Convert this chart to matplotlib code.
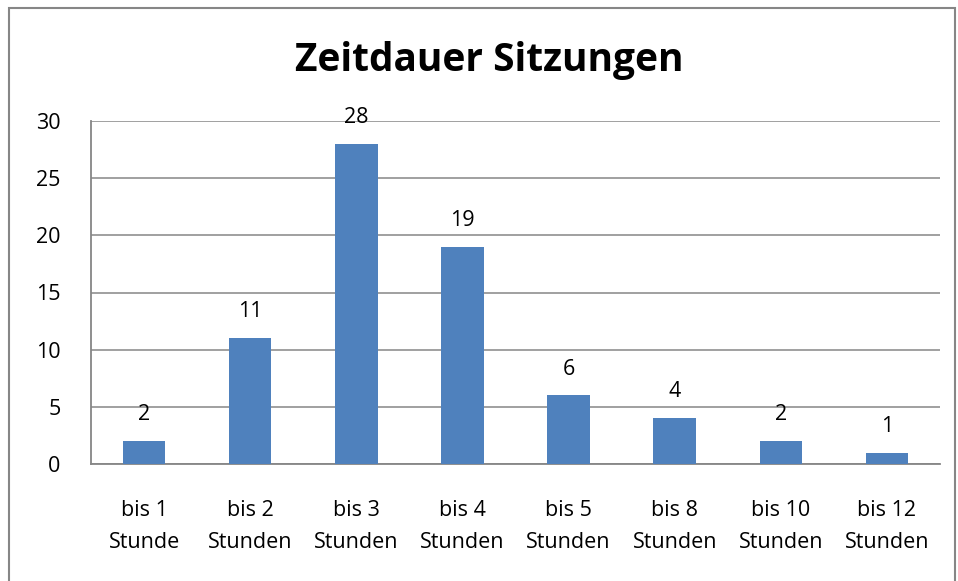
import numpy as np
import matplotlib.pyplot as plt
from matplotlib.patches import Rectangle

# Zeitdauer der Sitzungen
categories = ['bis 1\nStunde', 'bis 2\nStunden', 'bis 3\nStunden', 'bis 4\nStunden',
              'bis 5\nStunden', 'bis 8\nStunden', 'bis 10\nStunden', 'bis 12\nStunden']
counts = [2, 11, 28, 19, 6, 4, 2, 1]
yticks = [0, 5, 10, 15, 20, 25, 30]

plt.rcParams['font.family'] = ['Open Sans', 'DejaVu Sans']

fig = plt.figure(figsize=(9.58, 5.81), dpi=100)
ax = fig.add_axes([91 / 958, 1 - 464 / 581, 849 / 958, 343 / 581])

x = np.arange(len(categories))
ax.bar(x, counts, width=0.4, color='#4F81BD', zorder=3)

ax.set_xlim(-0.5, len(categories) - 0.5)
ax.set_ylim(0, 30)
ax.set_yticks(yticks)
ax.set_xticks(x)
ax.set_xticklabels(categories, fontsize=15.5, linespacing=1.65)
ax.tick_params(axis='both', length=0, labelsize=15.5, colors='black')
ax.tick_params(axis='y', pad=22)
ax.tick_params(axis='x', pad=26)
ax.yaxis.grid(True, color='#868686', linewidth=1.1, zorder=0)

for s in ['top', 'right']:
    ax.spines[s].set_visible(False)
for s in ['left', 'bottom']:
    ax.spines[s].set_color('#868686')
    ax.spines[s].set_linewidth(1.3)

for xi, v in zip(x, counts):
    ax.annotate(str(v), (xi, v), xytext=(0, 19), textcoords='offset points',
                ha='center', va='center', fontsize=15.5)

fig.text(489 / 958, 1 - 61 / 581, 'Zeitdauer Sitzungen', ha='center', va='center',
         fontsize=28, fontweight='bold')

# Rahmen um das Diagramm
fig.patches.append(Rectangle((9 / 958, -0.1), 946 / 958, 1 - 8 / 581 + 0.1,
                             transform=fig.transFigure, fill=False,
                             edgecolor='#868686', linewidth=1.5))

fig.savefig('out.png', dpi=100)
